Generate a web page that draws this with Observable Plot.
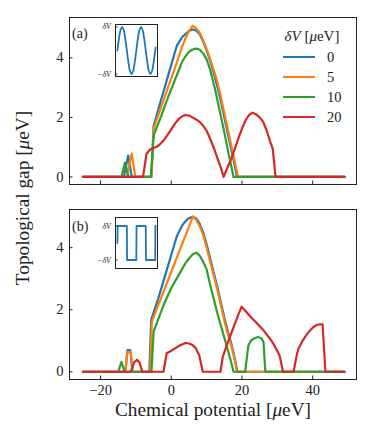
<!DOCTYPE html>
<html><head><meta charset="utf-8">
<script src="https://cdn.jsdelivr.net/npm/d3@7"></script>
<script src="https://cdn.jsdelivr.net/npm/@observablehq/plot@0.6"></script>
<style>
body{margin:0;background:#fff;}
#root{position:relative;width:373px;height:435px;font-family:"Liberation Serif",serif;color:#222;overflow:hidden}
#root svg{position:absolute;background:transparent}
.lbl{position:absolute;white-space:nowrap;line-height:1}
</style></head><body><div id="root"></div>
<script>
// ---- data: series labels and colours
const seriesLabels = ["0", "5", "10", "20"];
const seriesColors = ["#1f77b4", "#ff7f0e", "#2ca02c", "#d62728"];
const xTicks = [-20, 0, 20, 40];
const yTicks = [0, 2, 4];

// ---- panel (a): sinusoidal potential
const a0x = [-25, -13.4, -12.2, -11.2, -5.6, -5, -3, -1, 1, 1.6, 3, 4, 5, 6, 7, 8, 9, 10, 11, 12, 13, 14, 15, 16, 17, 18, 18.6, 49];
const a0y = [0, 0, 0.72, 0, 0, 1.72, 2.54, 3.36, 4.18, 4.42, 4.68, 4.8, 4.9, 4.95, 4.92, 4.8, 4.55, 4.25, 3.9, 3.5, 3.05, 2.55, 2.0, 1.45, 0.9, 0.35, 0, 0];
const a5x = [-25, -12.6, -11.2, -10.2, -5.6, -5, -3, -1, 1, 2, 3, 4, 5, 6, 7, 8, 9, 10, 11, 12, 13, 14, 15, 16, 17, 18, 18.9, 49];
const a5y = [0, 0, 0.78, 0, 0, 1.62, 2.3, 2.98, 3.65, 4.0, 4.35, 4.65, 4.9, 5.07, 5.0, 4.85, 4.6, 4.3, 3.95, 3.6, 3.2, 2.7, 2.15, 1.6, 1.05, 0.5, 0, 0];
const a10x = [-25, -14.1, -13.1, -12.1, -5.8, -5, -4, -3, -2, -1, 0, 1, 2, 3, 4, 5, 6, 7, 8, 9, 10, 11, 12.45, 13, 14, 15, 16, 17, 17.6, 49];
const a10y = [0, 0, 0.48, 0, 0, 1.38, 1.7, 2.0, 2.33, 2.65, 2.95, 3.25, 3.55, 3.85, 4.05, 4.2, 4.28, 4.31, 4.28, 4.15, 3.95, 3.6, 2.91, 2.6, 2.05, 1.5, 0.9, 0.35, 0, 0];
const a20x = [-25, -8, -7, -6, -5, -4, -3, -2, -1, 0, 1, 2, 3, 4, 5, 6, 7, 8, 9, 10, 11, 12, 13, 14, 14.8, 16, 17, 18, 19, 20, 21, 22, 23, 24, 25, 26, 27, 28, 28.7, 29.5, 49];
const a20y = [0, 0, 0.78, 0.92, 0.97, 1.02, 1.12, 1.25, 1.42, 1.6, 1.78, 1.93, 2.03, 2.08, 2.06, 2.0, 1.93, 1.85, 1.72, 1.55, 1.28, 0.98, 0.65, 0.32, 0, 0.35, 0.62, 0.95, 1.3, 1.62, 1.9, 2.08, 2.16, 2.1, 2.0, 1.85, 1.55, 1.18, 0.95, 0, 0];

// ---- panel (b): square-wave potential
const b0x = [-25, -13, -12.4, -11.6, -11, -6.2, -5.7, -4, -2, 0, 1.6, 3, 4, 5, 6, 7, 8, 9, 10, 11, 12, 13, 14, 15, 16, 17, 18, 18.7, 49];
const b0y = [0, 0, 0.7, 0.7, 0, 0, 1.67, 2.25, 3.0, 3.77, 4.38, 4.7, 4.85, 4.95, 5.0, 4.95, 4.78, 4.5, 4.1, 3.65, 3.2, 2.75, 2.25, 1.75, 1.3, 0.9, 0.4, 0, 0];
const b5x = [-25, -13, -12.4, -11.5, -10.8, -6, -5.5, 6.1, 7, 8, 9, 10, 11, 12, 13, 14, 15, 16, 17, 18, 18.6, 49];
const b5y = [0, 0, 0.64, 0.64, 0, 0, 1.62, 5.0, 4.9, 4.7, 4.42, 4.0, 3.55, 3.1, 2.65, 2.15, 1.65, 1.2, 0.82, 0.35, 0, 0];
const b10x = [-25, -15, -14.1, -13.2, -5.6, -5, -4, -3, -2, -1, 0, 1, 2, 3, 4, 5, 6, 7, 8, 9, 10, 11, 12, 13, 14, 15, 16, 17, 17.6, 20.9, 21.8, 22.5, 23.5, 24.5, 25.5, 26.1, 26.6, 49];
const b10y = [0, 0, 0.32, 0, 0, 1.3, 1.6, 1.9, 2.2, 2.45, 2.7, 2.9, 3.1, 3.3, 3.5, 3.65, 3.78, 3.84, 3.75, 3.55, 3.3, 2.8, 2.35, 1.9, 1.5, 1.1, 0.7, 0.28, 0, 0, 0.85, 1.0, 1.08, 1.12, 1.08, 0.95, 0, 0];
const b20x = [-25, -11.5, -10.5, -9.7, -9, -8.2, -2.2, -1.3, 0, 1, 2, 3, 4, 5, 6, 6.8, 7.9, 8.9, 13.9, 14.6, 16, 17, 18, 19, 19.9, 21, 22, 23, 24, 25, 26, 27, 28, 29, 30, 30.7, 31.6, 34.6, 35.5, 36, 37, 38, 39, 40, 41, 42, 42.8, 43.6, 49];
const b20y = [0, 0, 0.3, 0.39, 0.3, 0, 0, 0.6, 0.68, 0.75, 0.82, 0.88, 0.93, 0.91, 0.86, 0.78, 0.53, 0, 0, 0.5, 0.95, 1.25, 1.55, 1.85, 2.1, 1.96, 1.83, 1.7, 1.59, 1.47, 1.35, 1.2, 1.05, 0.88, 0.67, 0.5, 0, 0, 0.55, 0.75, 0.97, 1.15, 1.3, 1.42, 1.5, 1.53, 1.53, 0, 0];

// ---- insets: potential profiles (phase in 1/12 period steps)
const sinePhase = [0, 1, 2, 3, 4, 5, 6, 7, 8, 9, 10, 11, 12, 13, 14, 15, 16, 17, 18, 19, 20, 21, 22, 23, 24, 24.25];
const sineValue = [0, 0.5, 0.87, 1, 0.87, 0.5, 0, -0.5, -0.87, -1, -0.87, -0.5, 0, 0.5, 0.87, 1, 0.87, 0.5, 0, -0.5, -0.87, -1, -0.87, -0.5, 0, 0.13];
const squarePhase = [0, 0.15, 6, 6.15, 12, 12.15, 18, 18.15, 24, 24.1, 24.25];
const squareValue = [0, 1, 1, -1, -1, 1, 1, -1, -1, 1, 1];
const insetTicks = [-1, 1];
const insetTickText = ["\u2212\u03b4V", "\u03b4V"];

// ---- build
const root = document.getElementById("root");
const rows = (xs, ys, s) => xs.map((x, i) => ({x, y: ys[i], s}));
const dataA = [...rows(a0x, a0y, "0"), ...rows(a5x, a5y, "5"), ...rows(a10x, a10y, "10"), ...rows(a20x, a20y, "20")];
const dataB = [...rows(b0x, b0y, "0"), ...rows(b5x, b5y, "5"), ...rows(b10x, b10y, "10"), ...rows(b20x, b20y, "20")];

const font = '"Liberation Serif", serif';
function place(el, left, top) { el.style.left = left + "px"; el.style.top = top + "px"; root.appendChild(el); }

function panel(data, yDomain, height, mt, mb, showX) {
  return Plot.plot({
    width: 373, height, marginLeft: 69, marginRight: 17, marginTop: mt, marginBottom: mb,
    x: {domain: [-28.8, 52.4]},
    y: {domain: yDomain},
    color: {domain: seriesLabels, range: seriesColors},
    style: {fontFamily: font, fontSize: "14.5px", color: "#222", background: "transparent", overflow: "visible"},
    marks: [
      Plot.line(data, {x: "x", y: "y", z: "s", stroke: "s", strokeWidth: 2.2, strokeLinejoin: "round"}),
      Plot.frame({stroke: "#222", strokeWidth: 1}),
      Plot.axisY(yTicks, {tickSize: -3.5, tickPadding: 9.5, label: null}),
      Plot.axisX(xTicks, {tickSize: -3.5, tickPadding: 8.5, label: null, tickFormat: showX ? undefined : () => ""})
    ]
  });
}

place(panel(dataA, [-0.255, 5.355], 190, 17, 6, false), 0, 0);
place(panel(dataB, [-0.249, 5.23], 245, 19, 56, true), 0, 190);

function inset(phase, value, yDomain, h, curve) {
  return Plot.plot({
    width: 74, height: h + 8, marginLeft: 30, marginRight: 2, marginTop: 4, marginBottom: 4,
    x: {domain: [-1.21, 25.46], axis: null},
    y: {domain: yDomain},
    style: {fontFamily: font, fontSize: "8px", color: "#222", background: "transparent", overflow: "visible"},
    marks: [
      Plot.line(phase.map((p, i) => ({p, v: value[i]})), {x: "p", y: "v", stroke: "#1f77b4", strokeWidth: 1.8, curve}),
      Plot.frame({stroke: "#222", strokeWidth: 1}),
      Plot.axisY(insetTicks, {tickSize: -2.5, tickPadding: 7, label: null, fontStyle: "italic", tickFormat: (d) => insetTickText[insetTicks.indexOf(d)]})
    ]
  });
}
place(inset(sinePhase, sineValue, [-1.1, 1.1], 52, "catmull-rom"), 85, 20);
place(inset(squarePhase, squareValue, [-1.5, 1.5], 51, "linear"), 85, 213);

// ---- text labels
function label(html, left, top, size, extra) {
  const d = document.createElement("div");
  d.className = "lbl";
  d.innerHTML = html;
  d.style.fontSize = size + "px";
  d.style.transform = extra || "translate(-50%,-50%)";
  place(d, left, top);
  return d;
}
label("(a)", 72, 34, 14, "translate(0,-50%)");
label("(b)", 72, 226.5, 14, "translate(0,-50%)");
label("Topological gap [<i>\u03bc</i>eV]", 23, 198, 19.3, "translate(-50%,-50%) rotate(-90deg)");
label("Chemical potential [<i>\u03bc</i>eV]", 213, 410, 19.3);

// legend
label("<i>\u03b4V</i> [<i>\u03bc</i>eV]", 312, 36, 15);
const legendY = [56.7, 76.7, 97.3, 117.3];
seriesLabels.forEach((s, i) => {
  const ln = document.createElement("div");
  ln.style.cssText = `position:absolute;width:32px;height:2.4px;background:${seriesColors[i]}`;
  place(ln, 283, legendY[i] - 1.2);
  label(s, 327, legendY[i], 14.5, "translate(0,-50%)");
});
</script></body></html>
